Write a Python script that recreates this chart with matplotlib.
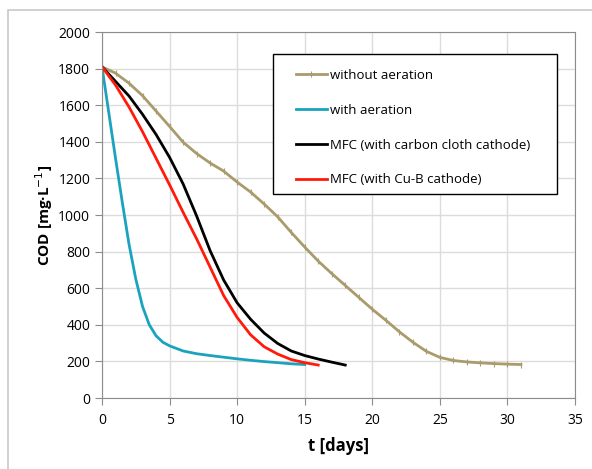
import matplotlib.pyplot as plt
from matplotlib.patches import Rectangle

# COD removal over time
t_without = list(range(0, 32))
cod_without = [1810, 1775, 1720, 1652, 1568, 1484, 1398, 1336, 1284, 1240,
               1180, 1125, 1060, 990, 905, 825, 748, 680, 615, 550,
               485, 425, 362, 305, 255, 222, 205, 197, 192, 188, 185, 183]

t_with = [0, 0.5, 1, 1.5, 2, 2.5, 3, 3.5, 4, 4.5, 5, 6, 7, 8, 9, 10, 11, 12, 13, 14, 15]
cod_with = [1810, 1560, 1310, 1070, 840, 650, 500, 400, 340, 305, 285, 257, 242, 232,
            223, 214, 206, 199, 193, 187, 183]

t_carbon = list(range(0, 19))
cod_carbon = [1810, 1730, 1650, 1550, 1440, 1315, 1170, 995, 805, 645,
              520, 430, 355, 298, 257, 232, 213, 196, 180]

t_cub = list(range(0, 17))
cod_cub = [1810, 1710, 1590, 1455, 1310, 1165, 1015, 870, 715, 560,
           440, 345, 280, 240, 210, 193, 180]

labels = ["without aeration", "with aeration",
          "MFC (with carbon cloth cathode)", "MFC (with Cu-B cathode)"]
colors = ["#a99b6c", "#1ba3bd", "black", "#ff1a0a"]

plt.rcParams['font.family'] = ['Open Sans', 'DejaVu Sans']

fig = plt.figure(figsize=(5.92, 4.69), dpi=100)
ax = fig.add_axes([102 / 592, 1 - 398 / 469, 473 / 592, 366 / 469])

# light frame around the whole chart
fig.patches.append(Rectangle((8 / 592, -0.1), 1.2, 1 - 10 / 469 + 0.1,
                             transform=fig.transFigure, fill=False,
                             edgecolor="#c8c8c8", linewidth=1.2))

ax.plot(t_without, cod_without, color=colors[0], lw=2, marker="|", ms=4,
        mew=0.8, label=labels[0])
ax.plot(t_with, cod_with, color=colors[1], lw=2, label=labels[1])
ax.plot(t_carbon, cod_carbon, color=colors[2], lw=2, label=labels[2])
ax.plot(t_cub, cod_cub, color=colors[3], lw=2, label=labels[3])

ax.set_xlim(0, 35)
ax.set_ylim(0, 2000)
ax.set_xticks(range(0, 36, 5))
ax.set_yticks(range(0, 2001, 200))
ax.grid(color="#dcdcdc", lw=1)
ax.set_axisbelow(True)
for s in ax.spines.values():
    s.set_color("#8c8c8c")
ax.tick_params(colors="#8c8c8c", labelcolor="black", labelsize=10, length=5)
ax.tick_params(axis="x", pad=6)

ax.set_xlabel("t [days]", fontsize=12, fontweight="bold", labelpad=6)
ax.set_ylabel("COD [mg·L$^{-1}$]", fontsize=11, fontweight="bold", labelpad=2)

# legend box drawn separately so the padding can differ per side
ax.add_patch(Rectangle((0.3615, 0.5574), 0.6004, 0.3825, transform=ax.transAxes,
                       facecolor="white", edgecolor="black", lw=1, zorder=5))
leg = ax.legend(loc="upper left", bbox_to_anchor=(0.410, 0.899),
                fontsize=9.5, frameon=False, handlelength=2.35,
                handletextpad=0.23, labelspacing=1.65, borderpad=0,
                borderaxespad=0)
leg.set_zorder(6)

fig.savefig("out.png", dpi=100)
